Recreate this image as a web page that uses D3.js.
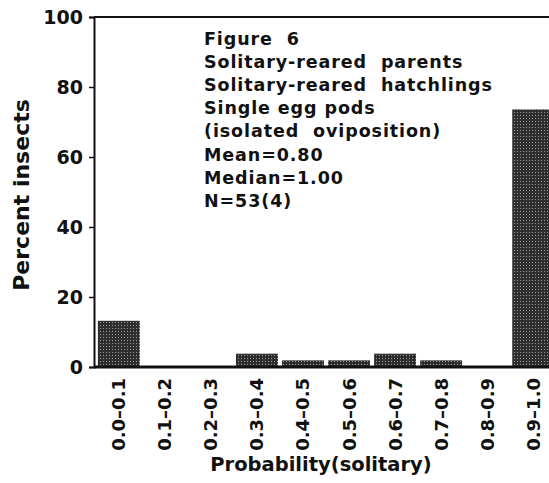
<!DOCTYPE html>
<html>
<head>
<meta charset="utf-8">
<script src="https://cdn.jsdelivr.net/npm/d3@7"></script>
<style>
  body { margin: 0; background: #fff; }
  text { font-family: "DejaVu Sans", sans-serif; font-weight: bold; fill: #111; }
</style>
</head>
<body>
<div id="chart"></div>
<script>
// bins of probability(solitary) and percent of insects in each
var bins = ["0.0–0.1", "0.1–0.2", "0.2–0.3", "0.3–0.4", "0.4–0.5",
            "0.5–0.6", "0.6–0.7", "0.7–0.8", "0.8–0.9", "0.9–1.0"];
var percents = [13.2, 0, 0, 3.8, 1.9, 1.9, 3.8, 1.9, 0, 73.6];
var yTicks = [0, 20, 40, 60, 80, 100];
var notes = ["Figure  6", "Solitary-reared  parents", "Solitary-reared  hatchlings",
             "Single egg pods", "(isolated  oviposition)",
             "Mean=0.80", "Median=1.00", "N=53(4)"];

var width = 549, height = 483;

var svg = d3.select('#chart').append('svg')
  .attr('width', width)
  .attr('height', height);

var defs = svg.append('defs');
var pat = defs.append('pattern')
  .attr('id', 'dots')
  .attr('width', 3).attr('height', 3)
  .attr('patternUnits', 'userSpaceOnUse');
pat.append('rect').attr('width', 3).attr('height', 3).attr('fill', '#2e2e2e');
pat.append('rect').attr('x', 1).attr('y', 1).attr('width', 1).attr('height', 1).attr('fill', '#9a9a9a');

var x = d3.scaleBand()
  .domain(bins)
  .range([96, 556])
  .paddingInner(0.09)
  .paddingOuter(0.04);

var y = d3.scaleLinear()
  .domain([0, 100])
  .range([367, 17]);

// bars
svg.append('g')
  .selectAll('.bar')
  .data(bins)
  .enter().append('rect')
  .attr('class', 'bar')
  .attr('x', function(d){ return x(d) })
  .attr('y', function(d, i){ return y(percents[i]) })
  .attr('width', x.bandwidth())
  .attr('height', function(d, i){ return y(0) - y(percents[i]) })
  .attr('fill', 'url(#dots)');

// frame: left axis, top line and baseline
svg.append('line')
  .attr('x1', 94).attr('x2', width)
  .attr('y1', y(100)).attr('y2', y(100))
  .attr('stroke', '#111').attr('stroke-width', 2);

svg.append('line')
  .attr('x1', 94).attr('x2', width)
  .attr('y1', y(0)).attr('y2', y(0))
  .attr('stroke', '#111').attr('stroke-width', 3);

var yAxis = svg.append('g')
  .attr('transform', 'translate(94,0)')
  .call(d3.axisLeft(y).tickValues(yTicks).tickSize(5).tickPadding(6));

yAxis.select('.domain').attr('stroke', '#111').attr('stroke-width', 2);
yAxis.selectAll('.tick line').attr('stroke', '#111').attr('stroke-width', 1.5);
yAxis.selectAll('.tick text')
  .attr('font-size', 19)
  .attr('font-family', '"DejaVu Sans", sans-serif')
  .attr('font-weight', 'bold')
  .attr('fill', '#111');

// rotated category labels
svg.append('g')
  .selectAll('.xlab')
  .data(bins)
  .enter().append('text')
  .attr('class', 'xlab')
  .attr('transform', function(d){
    return 'translate(' + (x(d) + x.bandwidth() / 2 + 6.5) + ',378) rotate(-90)';
  })
  .attr('text-anchor', 'end')
  .attr('font-size', 18)
  .text(function(d){ return d });

// axis titles
svg.append('text')
  .attr('transform', 'translate(29,195) rotate(-90)')
  .attr('text-anchor', 'middle')
  .attr('font-size', 22)
  .text('Percent insects');

svg.append('text')
  .attr('x', 321)
  .attr('y', 471)
  .attr('text-anchor', 'middle')
  .attr('font-size', 19.5)
  .text('Probability(solitary)');

// annotation block
svg.append('g')
  .selectAll('.note')
  .data(notes)
  .enter().append('text')
  .attr('class', 'note')
  .attr('x', 204)
  .attr('y', function(d, i){ return 45 + i * 23.1 })
  .attr('font-size', 17.5)
  .attr('letter-spacing', 0.9)
  .style('white-space', 'pre')
  .text(function(d){ return d });
</script>
</body>
</html>
